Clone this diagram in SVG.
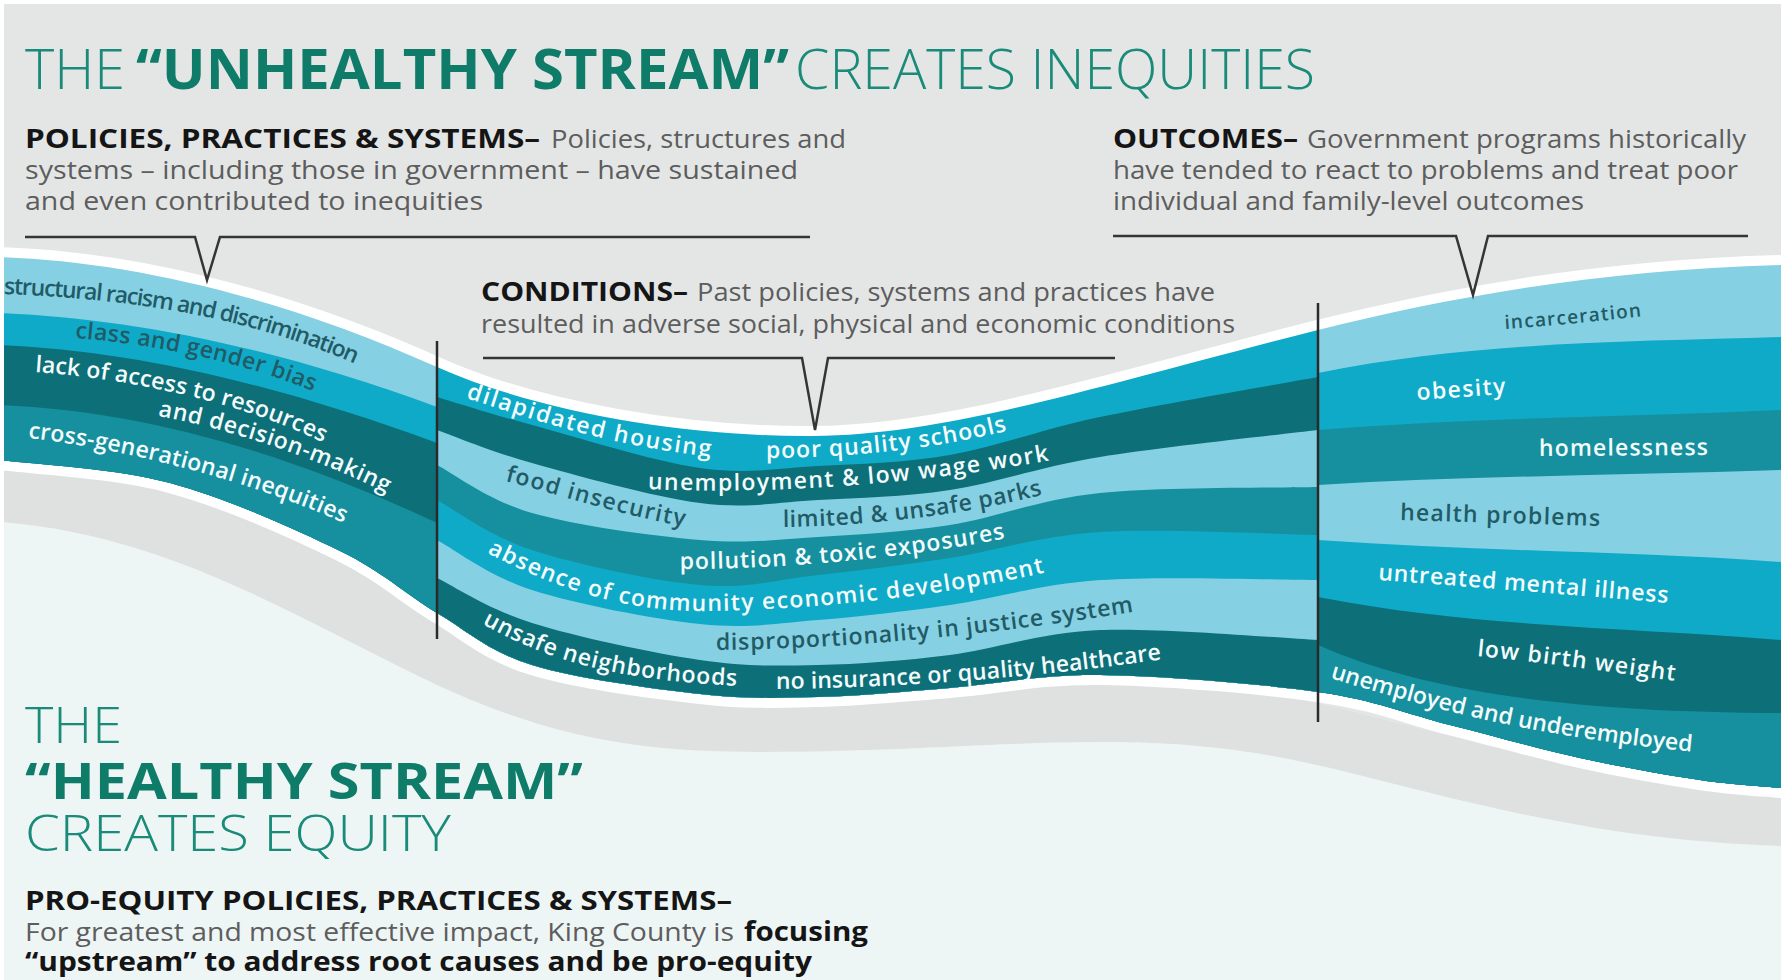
<svg xmlns="http://www.w3.org/2000/svg" width="1781" height="980" viewBox="0 0 1781 980">
<style>
.hd{font-family:"Open Sans","Noto Sans","Liberation Sans",sans-serif;fill:#1a8a79;font-size:56px;font-weight:300}
.hd2{font-size:50px}
.hdb{font-weight:700;fill:#0f7c6a}
.p{font-family:"Open Sans","Noto Sans","Liberation Sans",sans-serif;font-size:26px;fill:#5d5d5d}
.pb{font-weight:700;fill:#151515}
.lb{font-family:"Open Sans","Noto Sans","Liberation Sans",sans-serif;font-size:23px;font-weight:600}
.sm{font-size:19px}
.lw{fill:#f4fbfc}
.ld{fill:#215b66}
.br{fill:none;stroke:#353535;stroke-width:2.5;stroke-linejoin:miter}
.dv{stroke:#2a2a2a;stroke-width:2.5}
.LB{fill:#86d0e3}.CY{fill:#0eaac7}.DT{fill:#0d6f78}.TL{fill:#16909e}
</style>
<defs>
<clipPath id="frame"><rect x="4" y="4" width="1777" height="976"/></clipPath>
<path id="streamShape" d="M-40,255 L0,257 C120,261 270,292 437,367 C540,413 690,437 813,436 C950,435 1100,385 1318,330 C1450,297 1600,270 1781,265 L1821,264 L1821,789 L1781,788 C1767.5,786.7 1733.5,785 1700,780 C1666.5,775 1621.7,767.2 1580,758 C1538.3,748.8 1493.7,736 1450,725 C1406.3,714 1376.3,700.3 1318,692 C1259.7,683.7 1161.3,675.7 1100,675 C1038.7,674.3 997,684.3 950,688 C903,691.7 859.7,696 818,697 C776.3,698 747.7,699.3 700,694 C652.3,688.7 575.8,678.5 532,665 C488.2,651.5 469,632 437,613 C405,594 384.5,572.7 340,551 C295.5,529.3 226.7,498.2 170,483 C113.3,467.8 28.3,463.8 0,460 L-40,458 Z"/>
<clipPath id="streamClip"><use href="#streamShape"/></clipPath>
<clipPath id="secA"><rect x="-50" y="0" width="487" height="980"/></clipPath>
<clipPath id="secB"><rect x="437" y="0" width="881" height="980"/></clipPath>
<clipPath id="secC"><rect x="1318" y="0" width="520" height="980"/></clipPath>
<path id="pA1" d="M4,294 C110,298 240,312 360,366"/>
<path id="pA2" d="M75,338 C150,344 240,360 320,394"/>
<path id="pA3" d="M35,372 C120,378 240,400 330,446"/>
<path id="pA4" d="M158,416 C220,427 310,454 392,496"/>
<path id="pA5" d="M28,438 C120,448 250,480 348,525"/>
<path id="pB1" d="M466,398 C520,415 600,445 715,457"/>
<path id="pB2" d="M766,458 C850,458 940,448 1010,430"/>
<path id="pB3" d="M648,489 C760,494 900,487 1052,460"/>
<path id="pB4" d="M505,481 C560,495 620,515 688,527"/>
<path id="pB5" d="M783,527 C870,526 970,514 1045,494"/>
<path id="pB6" d="M680,569 C780,569 900,559 1008,538"/>
<path id="pB7" d="M487,553 C560,590 620,610 700,611 C820,610 950,595 1056,570"/>
<path id="pB8" d="M716,650 C820,649 960,640 1138,611"/>
<path id="pB9" d="M482,624 C540,655 600,680 742,686"/>
<path id="pB10" d="M776,689 C880,688 1020,680 1164,659"/>
<path id="pC1" d="M1505,329 C1550,326 1600,321 1645,316"/>
<path id="pC2" d="M1417,400 L1506,394"/>
<path id="pC3" d="M1539,456 L1708,455"/>
<path id="pC4" d="M1400,520 L1600,526"/>
<path id="pC5" d="M1378,580 C1450,585 1560,594 1670,603"/>
<path id="pC6" d="M1477,656 C1540,662 1610,672 1676,681"/>
<path id="pC7" d="M1330,678 C1420,705 1520,735 1695,752"/>
</defs>

<rect width="1781" height="980" fill="#ffffff"/>
<g clip-path="url(#frame)">
  <g id="background">
    <rect x="0" y="0" width="1781" height="980" fill="#e4e6e6"/>
    <path d="M0,440 C170,455 300,540 437,605 C560,662 650,690 760,690 C900,690 1000,680 1100,680 C1200,680 1260,690 1330,706 C1480,743 1600,780 1781,786 L1781,846 C1600,840 1480,805 1330,768 C1260,752 1200,742 1100,742 C1000,742 900,752 760,752 C650,752 560,742 437,685 C300,620 170,535 0,522 Z" fill="#dfe1e1"/>
    <path d="M0,522 C170,535 300,620 437,685 C560,742 650,752 760,752 C900,752 1000,742 1100,742 C1200,742 1260,752 1330,768 C1480,805 1600,840 1781,846 L1781,980 L0,980 Z" fill="#eef5f5"/>
  </g>

  <g id="stream">
    <use href="#streamShape" fill="#ffffff" stroke="#ffffff" stroke-width="20" stroke-linejoin="round"/>
    <g clip-path="url(#streamClip)">
      <g id="policies-band" clip-path="url(#secA)">
        <rect x="-50" y="200" width="500" height="500" class="LB"/>
        <path class="CY" d="M-40,311 L0,313 C120,318 260,342 437,407 L437,1000 L-40,1000 Z"/>
        <path class="DT" d="M-40,343 L0,345 C120,350 260,378 437,443 L437,1000 L-40,1000 Z"/>
        <path class="TL" d="M-40,403 L0,405 C120,410 260,440 437,523 L437,1000 L-40,1000 Z"/>
      </g>
      <g id="conditions-band" clip-path="url(#secB)">
        <rect x="430" y="300" width="900" height="500" class="CY"/>
        <path class="DT" d="M437,397 C452.8,401.7 488.2,413.2 532,425 C575.8,436.8 652.3,461.2 700,468 C747.7,474.8 776.3,468.2 818,466 C859.7,463.8 903,463.2 950,455 C997,446.8 1038.7,430 1100,417 C1161.3,404 1281.7,383.7 1318,377 L1318,1000 L437,1000 Z"/>
        <path class="LB" d="M437,430 C452.8,435.5 488.2,450.8 532,463 C575.8,475.2 652.3,496.8 700,503 C747.7,509.2 776.3,502.2 818,500 C859.7,497.8 903,497.2 950,490 C997,482.8 1038.7,467 1100,457 C1161.3,447 1281.7,434.5 1318,430 L1318,1000 L437,1000 Z"/>
        <path class="TL" d="M437,465 C452.8,473 488.2,500.5 532,513 C575.8,525.5 652.3,536 700,540 C747.7,544 776.3,539.5 818,537 C859.7,534.5 903,532.3 950,525 C997,517.7 1038.7,499.3 1100,493 C1161.3,486.7 1281.7,488 1318,487 L1318,1000 L437,1000 Z"/>
        <path class="CY" d="M437,500 C452.8,508.3 488.2,535.8 532,550 C575.8,564.2 652.3,580.8 700,585 C747.7,589.2 776.3,579.5 818,575 C859.7,570.5 903,565.2 950,558 C997,550.8 1038.7,535.8 1100,532 C1161.3,528.2 1281.7,534.5 1318,535 L1318,1000 L437,1000 Z"/>
        <path class="LB" d="M437,540 C452.8,548.3 488.2,576 532,590 C575.8,604 652.3,619 700,624 C747.7,629 776.3,623.2 818,620 C859.7,616.8 903,611.7 950,605 C997,598.3 1038.7,584.2 1100,580 C1161.3,575.8 1281.7,580 1318,580 L1318,1000 L437,1000 Z"/>
        <path class="DT" d="M437,578 C452.8,585.5 488.2,609.3 532,623 C575.8,636.7 652.3,653 700,660 C747.7,667 776.3,665.8 818,665 C859.7,664.2 903,660.8 950,655 C997,649.2 1038.7,632.5 1100,630 C1161.3,627.5 1281.7,638.3 1318,640 L1318,1000 L437,1000 Z"/>
      </g>
      <g id="outcomes-band" clip-path="url(#secC)">
        <rect x="1310" y="200" width="520" height="700" class="LB"/>
        <path class="CY" d="M1318,373 C1472,341.7 1627,341.7 1781,337 L1821,336 L1821,1000 L1318,1000 Z"/>
        <path class="TL" d="M1318,430 C1472,417.3 1627,417.3 1781,410 L1821,409 L1821,1000 L1318,1000 Z"/>
        <path class="LB" d="M1318,485 C1472,475.5 1627,475.5 1781,470 L1821,469 L1821,1000 L1318,1000 Z"/>
        <path class="CY" d="M1318,540 C1472,551 1627,551 1781,562 L1821,563 L1821,1000 L1318,1000 Z"/>
        <path class="DT" d="M1318,597 C1472,627.2 1627,627.2 1781,640 L1821,641 L1821,1000 L1318,1000 Z"/>
        <path class="TL" d="M1318,645 C1420,690 1560,712 1781,713 L1821,713 L1821,1000 L1318,1000 Z"/>
      </g>
    </g>
  </g>

  <g id="labels-policies">
    <text class="lb ld" textLength="360"><textPath href="#pA1">structural racism and discrimination</textPath></text>
    <text class="lb ld" textLength="245"><textPath href="#pA2">class and gender bias</textPath></text>
    <text class="lb lw" textLength="298"><textPath href="#pA3">lack of access to resources</textPath></text>
    <text class="lb lw" textLength="242"><textPath href="#pA4">and decision-making</textPath></text>
    <text class="lb lw" textLength="328"><textPath href="#pA5">cross-generational inequities</textPath></text>
  </g>
  <g id="labels-conditions">
    <text class="lb lw" textLength="252"><textPath href="#pB1">dilapidated housing</textPath></text>
    <text class="lb lw" textLength="243"><textPath href="#pB2">poor quality schools</textPath></text>
    <text class="lb lw" textLength="403"><textPath href="#pB3">unemployment &amp; low wage work</textPath></text>
    <text class="lb ld" textLength="185"><textPath href="#pB4">food insecurity</textPath></text>
    <text class="lb ld" textLength="262"><textPath href="#pB5">limited &amp; unsafe parks</textPath></text>
    <text class="lb lw" textLength="327"><textPath href="#pB6">pollution &amp; toxic exposures</textPath></text>
    <text class="lb lw" textLength="570"><textPath href="#pB7">absence of community economic development</textPath></text>
    <text class="lb ld" textLength="420"><textPath href="#pB8">disproportionality in justice system</textPath></text>
    <text class="lb lw" textLength="265"><textPath href="#pB9">unsafe neighborhoods</textPath></text>
    <text class="lb lw" textLength="387"><textPath href="#pB10">no insurance or quality healthcare</textPath></text>
  </g>
  <g id="labels-outcomes">
    <text class="lb sm ld" textLength="137"><textPath href="#pC1">incarceration</textPath></text>
    <text class="lb lw" textLength="89"><textPath href="#pC2">obesity</textPath></text>
    <text class="lb lw" textLength="169"><textPath href="#pC3">homelessness</textPath></text>
    <text class="lb ld" textLength="200"><textPath href="#pC4">health problems</textPath></text>
    <text class="lb lw" textLength="291"><textPath href="#pC5">untreated mental illness</textPath></text>
    <text class="lb lw" textLength="199"><textPath href="#pC6">low birth weight</textPath></text>
    <text class="lb lw" textLength="370"><textPath href="#pC7">unemployed and underemployed</textPath></text>
  </g>

  <g id="dividers">
    <line class="dv" x1="437" y1="341" x2="437" y2="639"/>
    <line class="dv" x1="1318" y1="303" x2="1318" y2="722"/>
  </g>

  <g id="connectors">
    <path class="br" d="M25,237 L195,237 L207,280 L220,237 L810,237"/>
    <path class="br" d="M483,358 L802,358 L815,430 L828,358 L1115,358"/>
    <path class="br" d="M1113,236 L1456,236 L1473,295 L1488,236 L1748,236"/>
  </g>

  <g id="title">
    <text class="hd" x="25" y="89" textLength="100" lengthAdjust="spacingAndGlyphs">THE</text>
    <text class="hd hdb" x="136" y="89" textLength="653" lengthAdjust="spacingAndGlyphs">“UNHEALTHY STREAM”</text>
    <text class="hd" x="795" y="89" textLength="520" lengthAdjust="spacingAndGlyphs">CREATES INEQUITIES</text>
  </g>

  <g id="policies-text">
    <text class="p pb" x="25" y="148" textLength="515" lengthAdjust="spacingAndGlyphs">POLICIES, PRACTICES &amp; SYSTEMS–</text>
    <text class="p" x="551" y="148" textLength="295" lengthAdjust="spacingAndGlyphs">Policies, structures and</text>
    <text class="p" x="25" y="179" textLength="773" lengthAdjust="spacingAndGlyphs">systems – including those in government – have sustained</text>
    <text class="p" x="25" y="210" textLength="458" lengthAdjust="spacingAndGlyphs">and even contributed to inequities</text>
  </g>

  <g id="outcomes-text">
    <text class="p pb" x="1113" y="148" textLength="185" lengthAdjust="spacingAndGlyphs">OUTCOMES–</text>
    <text class="p" x="1307" y="148" textLength="439" lengthAdjust="spacingAndGlyphs">Government programs historically</text>
    <text class="p" x="1113" y="179" textLength="625" lengthAdjust="spacingAndGlyphs">have tended to react to problems and treat poor</text>
    <text class="p" x="1113" y="210" textLength="471" lengthAdjust="spacingAndGlyphs">individual and family-level outcomes</text>
  </g>

  <g id="conditions-text">
    <text class="p pb" x="481" y="301" textLength="207" lengthAdjust="spacingAndGlyphs">CONDITIONS–</text>
    <text class="p" x="697" y="301" textLength="518" lengthAdjust="spacingAndGlyphs">Past policies, systems and practices have</text>
    <text class="p" x="481" y="333" textLength="754" lengthAdjust="spacingAndGlyphs">resulted in adverse social, physical and economic conditions</text>
  </g>

  <g id="healthy-stream">
    <text class="hd hd2" x="25" y="743" textLength="97" lengthAdjust="spacingAndGlyphs">THE</text>
    <text class="hd hd2 hdb" x="25" y="799" textLength="558" lengthAdjust="spacingAndGlyphs">“HEALTHY STREAM”</text>
    <text class="hd hd2" x="25" y="851" textLength="426" lengthAdjust="spacingAndGlyphs">CREATES EQUITY</text>
    <text class="p pb" x="25" y="910" textLength="707" lengthAdjust="spacingAndGlyphs">PRO-EQUITY POLICIES, PRACTICES &amp; SYSTEMS–</text>
    <text class="p" x="25" y="941" textLength="709" lengthAdjust="spacingAndGlyphs">For greatest and most effective impact, King County is</text>
    <text class="p pb" x="744" y="941" textLength="124" lengthAdjust="spacingAndGlyphs">focusing</text>
    <text class="p pb" x="25" y="971" textLength="787" lengthAdjust="spacingAndGlyphs">“upstream” to address root causes and be pro-equity</text>
  </g>
</g>
</svg>
